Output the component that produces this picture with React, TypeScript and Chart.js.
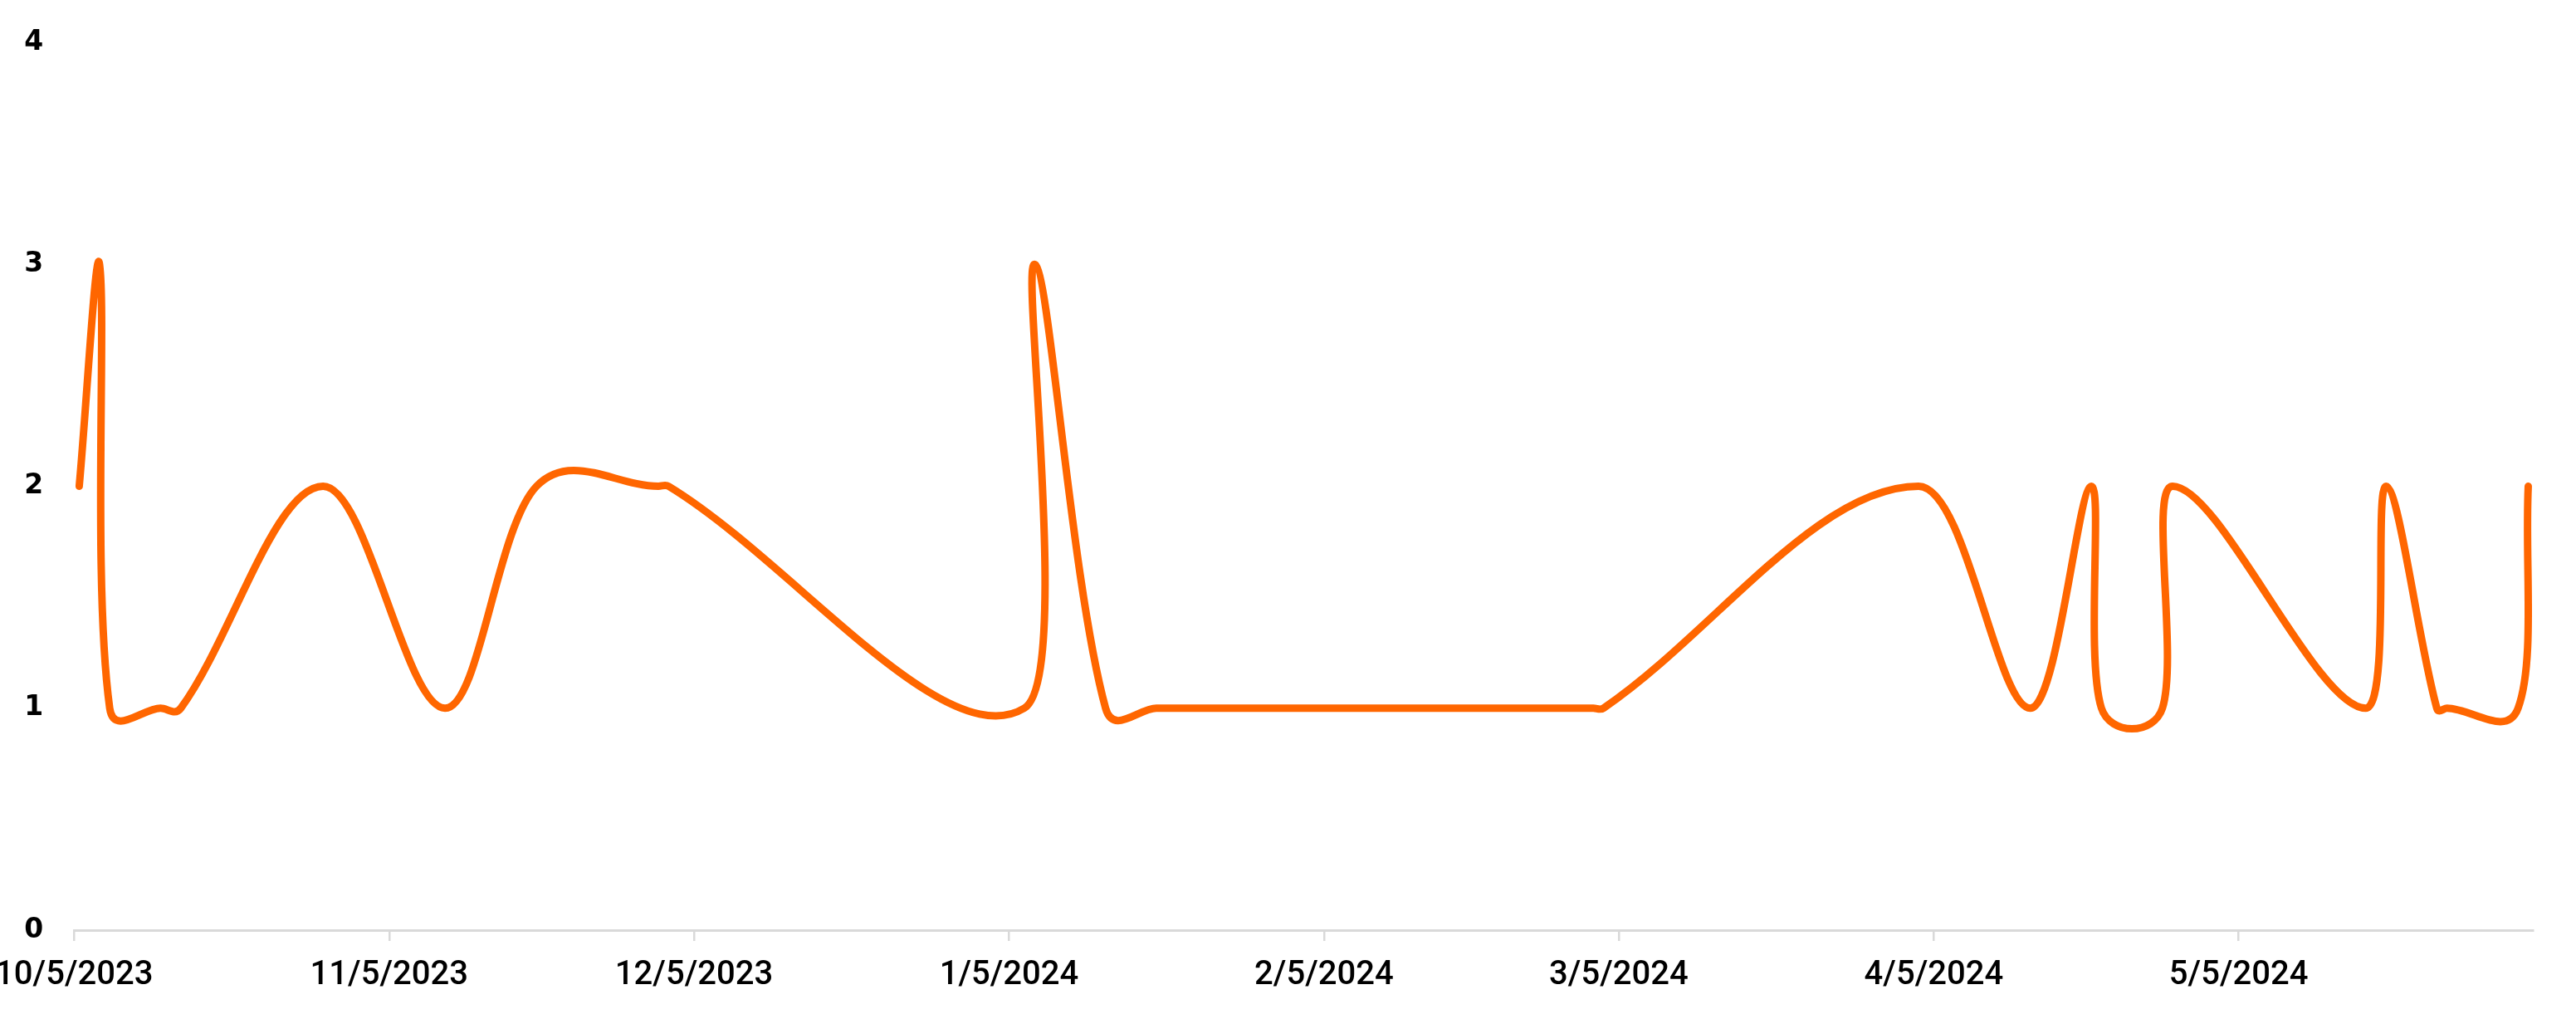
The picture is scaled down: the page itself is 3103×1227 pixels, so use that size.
import React, { useEffect, useRef } from "react";
import { Chart, registerables } from "chart.js";

Chart.register(...registerables);

// Observation dates (each observation sits at midday of its date)
const DATES: string[] = [
  "2023-10-05", "2023-10-07", "2023-10-08", "2023-10-13", "2023-10-15",
  "2023-10-29", "2023-11-10", "2023-11-19", "2023-12-01", "2023-12-02",
  "2024-01-06", "2024-01-07", "2024-01-14", "2024-01-19", "2024-03-02",
  "2024-03-03", "2024-04-03", "2024-04-14", "2024-04-20", "2024-04-21",
  "2024-04-27", "2024-04-28", "2024-05-17", "2024-05-19", "2024-05-24",
  "2024-05-25", "2024-06-01", "2024-06-02",
];

const VALUES: number[] = [
  2, 3, 1, 1, 1,
  2, 1, 2, 2, 2,
  1, 3, 1, 1, 1,
  1, 2, 1, 2, 1,
  1, 2, 1, 2, 1,
  1, 1, 2,
];

const TICK_LABELS: string[] = [
  "10/5/2023", "11/5/2023", "12/5/2023", "1/5/2024",
  "2/5/2024", "3/5/2024", "4/5/2024", "5/5/2024",
];

const AXIS_START = "2023-10-05";
const AXIS_END = "2024-06-03";

const Y_TICKS: number[] = [0, 1, 2, 3, 4];

// curve styling
const SPLINE_TENSION = 0.35;
const SPLINE_X_WEIGHT = 2;

const DAY = 86400000;

function isoToTime(s: string): number {
  const [y, m, d] = s.split("-").map(Number);
  return Date.UTC(y, m - 1, d);
}
function mdyToTime(s: string): number {
  const [m, d, y] = s.split("/").map(Number);
  return Date.UTC(y, m - 1, d);
}

// Cardinal-style control points (Chart.js formula, with distances weighted on x)
const splinePlugin = {
  id: "weightedSpline",
  beforeDatasetsDraw(chart: any) {
    chart.data.datasets.forEach((_ds: any, di: number) => {
      const meta = chart.getDatasetMeta(di);
      const pts = meta.data;
      const n = pts.length;
      for (let i = 0; i < n; i++) {
        const cur = pts[i];
        const prev = pts[i - 1] || cur;
        const next = pts[i + 1] || cur;
        const d01 = Math.hypot((cur.x - prev.x) * SPLINE_X_WEIGHT, cur.y - prev.y);
        const d12 = Math.hypot((next.x - cur.x) * SPLINE_X_WEIGHT, next.y - cur.y);
        let s01 = d01 / (d01 + d12);
        let s12 = d12 / (d01 + d12);
        if (!isFinite(s01)) s01 = 0;
        if (!isFinite(s12)) s12 = 0;
        const fa = SPLINE_TENSION * s01;
        const fb = SPLINE_TENSION * s12;
        cur.cp1x = cur.x - fa * (next.x - prev.x);
        cur.cp1y = cur.y - fa * (next.y - prev.y);
        cur.cp2x = cur.x + fb * (next.x - prev.x);
        cur.cp2y = cur.y + fb * (next.y - prev.y);
      }
      if (meta.dataset) {
        meta.dataset._pointsUpdated = true;
        meta.dataset._path = undefined;
      }
    });
  },
};

export default function App() {
  const ref = useRef<HTMLCanvasElement | null>(null);

  useEffect(() => {
    document.body.style.margin = "0";
    const canvas = ref.current;
    if (!canvas) return;

    const points = DATES.map((d, i) => ({ x: isoToTime(d) + DAY / 2, y: VALUES[i] }));
    const tickValues = TICK_LABELS.map(mdyToTime);

    const chart = new Chart(canvas, {
      type: "line",
      data: {
        datasets: [
          {
            data: points,
            borderColor: "#FF6600",
            backgroundColor: "#FF6600",
            borderWidth: 9,
            tension: SPLINE_TENSION,
            pointRadius: 0,
            pointHoverRadius: 0,
            borderCapStyle: "round",
            borderJoinStyle: "round",
            fill: false,
          },
        ],
      },
      plugins: [splinePlugin],
      options: {
        animation: false,
        responsive: true,
        maintainAspectRatio: false,
        events: [],
        layout: { padding: { left: 9.3, top: 51, right: 51.4, bottom: 0 } },
        plugins: { legend: { display: false }, tooltip: { enabled: false } },
        scales: {
          x: {
            type: "linear",
            min: isoToTime(AXIS_START),
            max: isoToTime(AXIS_END),
            afterBuildTicks: (scale: any) => {
              scale.ticks = tickValues.map((v) => ({ value: v }));
            },
            afterFit: (scale: any) => {
              scale.height = 107;
              scale.paddingLeft = 0;
              scale.paddingRight = 0;
            },
            grid: {
              display: true,
              drawOnChartArea: false,
              drawTicks: true,
              tickLength: 13,
              color: "#d9d9d9",
              lineWidth: 2.5,
            },
            border: { display: true, color: "#d9d9d9", width: 3 },
            ticks: {
              autoSkip: false,
              maxRotation: 0,
              minRotation: 0,
              padding: 17.5,
              color: "#000000",
              font: { family: "Roboto", size: 40, weight: "500" },
              callback: (_v: any, i: number) => TICK_LABELS[i],
            },
          },
          y: {
            min: 0,
            max: 4,
            afterBuildTicks: (scale: any) => {
              scale.ticks = Y_TICKS.map((v) => ({ value: v }));
            },
            afterFit: (scale: any) => {
              scale.width = 80;
              scale.paddingTop = 0;
              scale.paddingBottom = 0;
            },
            grid: { display: false, drawTicks: false },
            border: { display: false },
            ticks: {
              padding: 37,
              color: "#000000",
              font: { family: "DejaVu Sans", size: 33, weight: "bold" },
              callback: (v: any) => String(v),
            },
          },
        },
      },
    });

    return () => chart.destroy();
  }, []);

  return (
    <div style={{ position: "relative", width: "3103px", height: "1227px" }}>
      <canvas ref={ref} style={{ display: "block" }} />
    </div>
  );
}
